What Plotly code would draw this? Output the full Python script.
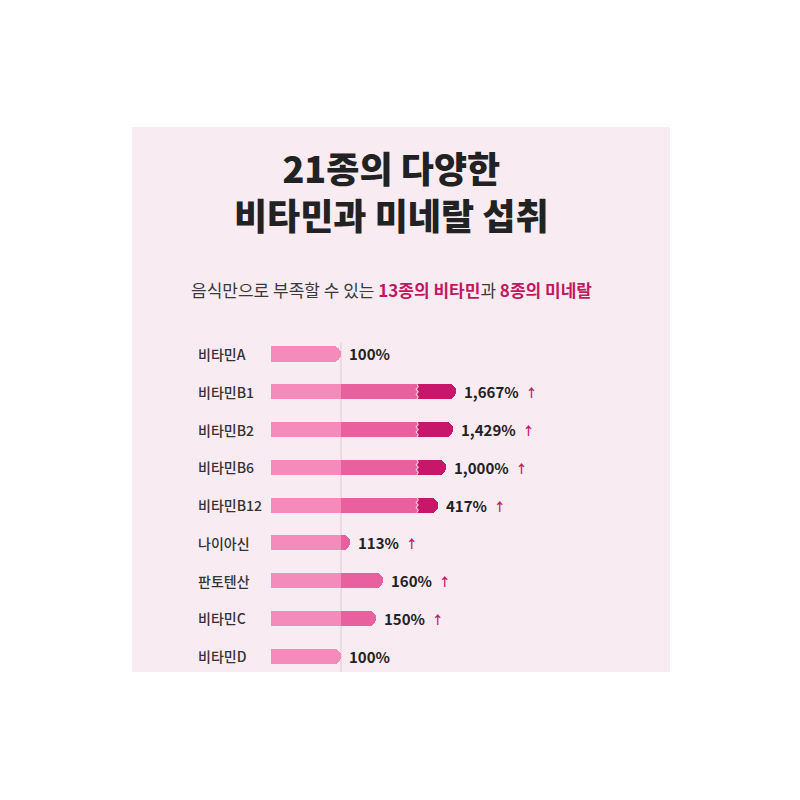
import plotly.graph_objects as go

# ---------------- data ----------------
categories = ["비타민A", "비타민B1", "비타민B2", "비타민B6", "비타민B12",
              "나이아신", "판토텐산", "비타민C", "비타민D"]
values = [100, 1667, 1429, 1000, 417, 113, 160, 150, 100]

title_lines = ["21종의 다양한", "비타민과 미네랄 섭취"]
subtitle_plain = "음식만으로 부족할 수 있는 "
subtitle_hl1 = "13종의 비타민"
subtitle_mid = "과 "
subtitle_hl2 = "8종의 미네랄"

# ---------------- styles ----------------
FONT = "Noto Sans CJK KR"
PANEL = "#F8EBF2"
LIGHT = "#F48BBA"
MID = "#E8609E"
DARK = "#C8176A"
ACCENT = "#C2185F"
TEXT = "#222222"

# broken-axis scale: values above the break are compressed
BREAK = 208.6
def display(v):
    if v <= 200:
        return v
    return BREAK + 21.4 + 0.0206 * v

disp = [display(v) for v in values]
rows = list(range(len(categories)))

light = [min(v, 100) for v in values]
mid = [(min(d, BREAK) - 100) if d > 100 else None for d in disp]
dark = [(d - BREAK) if d > BREAK else None for d in disp]

fig = go.Figure()
bw = 0.4
fig.add_trace(go.Bar(y=rows, x=light, orientation="h", marker_color=LIGHT,
                     width=bw, hoverinfo="skip", marker_line_width=0))
fig.add_trace(go.Bar(y=rows, x=mid, orientation="h", marker_color=MID,
                     width=bw, hoverinfo="skip", marker_line_width=0))
fig.add_trace(go.Bar(y=rows, x=dark, orientation="h", marker_color=DARK,
                     width=bw, hoverinfo="skip", marker_line_width=0))

# wavy break marks
zx, zy = [], []
offs = [0, 1.6, -1.2, 1.6, -1.2, 1.6, 0]
for r, d in zip(rows, disp):
    if d > BREAK:
        n = len(offs)
        for k, o in enumerate(offs):
            zx.append(BREAK + o)
            zy.append(r - bw / 2 + bw * k / (n - 1))
        zx.append(None)
        zy.append(None)
fig.add_trace(go.Scatter(x=zx, y=zy, mode="lines",
                         line=dict(color="#F9C6DC", width=1.2),
                         hoverinfo="skip"))

# 100% reference line
fig.add_shape(type="line", xref="x", yref="y", x0=100, x1=100,
              y0=-0.3, y1=8.42, line=dict(color="#DCCAD4", width=1),
              layer="below")

annotations = []
# category labels
for r, c in zip(rows, categories):
    annotations.append(dict(xref="paper", yref="y", x=0.119, y=r, text=c,
                            xanchor="left", yanchor="middle", showarrow=False,
                            font=dict(family=FONT, size=14, color="#333333",
                                      weight=500)))
# value labels
for r, v, d in zip(rows, values, disp):
    t = f"<b>{v:,}%</b>"
    if v > 100:
        t += f"  <span style='color:{DARK};font-size:12px'><b>↑</b></span>"
    annotations.append(dict(xref="x", yref="y", x=d, y=r, text=t,
                            xanchor="left", yanchor="middle", showarrow=False,
                            xshift=6,
                            font=dict(family=FONT, size=15, color=TEXT)))
# title
annotations.append(dict(xref="paper", yref="paper", x=0.483, y=0.8826,
                        text="<br>".join(title_lines), showarrow=False,
                        xanchor="center", yanchor="middle", align="center",
                        font=dict(family=FONT, size=36, color=TEXT, weight=800)))
# subtitle
sub = (f"{subtitle_plain}<span style='color:{ACCENT}'><b>{subtitle_hl1}</b></span>"
       f"{subtitle_mid}<span style='color:{ACCENT}'><b>{subtitle_hl2}</b></span>")
annotations.append(dict(xref="paper", yref="paper", x=0.483, y=0.701,
                        text=sub, showarrow=False, xanchor="center",
                        yanchor="middle",
                        font=dict(family=FONT, size=17, color="#3a3a3a")))

fig.update_layout(
    width=800, height=800,
    margin=dict(l=124, r=138, t=119, b=136),
    paper_bgcolor="white", plot_bgcolor=PANEL,
    barmode="stack", barcornerradius="50%", bargap=0,
    showlegend=False,
    xaxis=dict(range=[-198.57, 570], visible=False, fixedrange=True),
    yaxis=dict(range=[8.42, -6.01], visible=False, fixedrange=True),
    annotations=annotations,
)

fig.write_html("out.html")
